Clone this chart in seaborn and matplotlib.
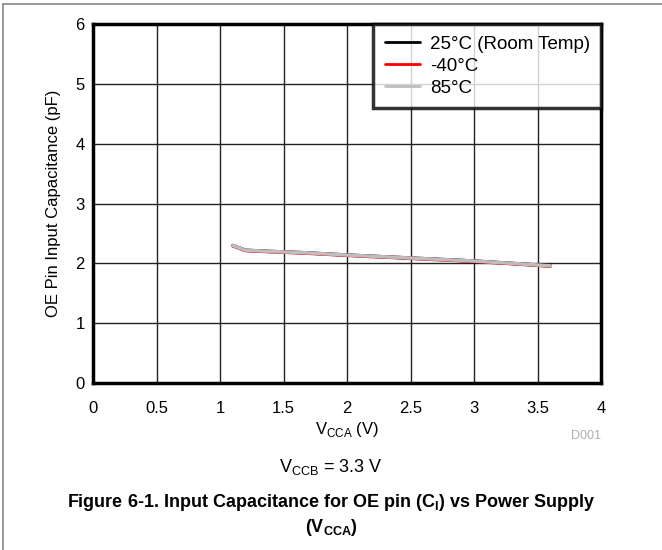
import numpy as np
import pandas as pd
import seaborn as sns
import matplotlib.pyplot as plt
from matplotlib.lines import Line2D

# valeurs
vcca = [1.1, 1.15, 1.2, 1.4, 1.65, 2.0, 2.5, 3.0, 3.3, 3.6]
cap_25 = [2.30, 2.26, 2.22, 2.20, 2.18, 2.14, 2.09, 2.04, 2.00, 1.96]
cap_m40 = [2.295, 2.255, 2.215, 2.195, 2.175, 2.135, 2.085, 2.035, 1.995, 1.955]
cap_85 = [2.30, 2.26, 2.22, 2.20, 2.18, 2.14, 2.09, 2.04, 2.00, 1.96]
labels = ['25°C (Room Temp)', '-40°C', '85°C']
colors = ['#000000', '#ff0000', '#bdbdbd']
x_ticks = [0, 0.5, 1, 1.5, 2, 2.5, 3, 3.5, 4]
y_ticks = [0, 1, 2, 3, 4, 5, 6]

df = pd.DataFrame({'vcca': vcca * 3,
                   'cap': cap_25 + cap_m40 + cap_85,
                   'temp': [labels[0]] * len(vcca) + [labels[1]] * len(vcca) + [labels[2]] * len(vcca)})

sns.set_style('white')
plt.rcParams['font.family'] = ['Liberation Sans', 'DejaVu Sans']
plt.rcParams['mathtext.fontset'] = 'custom'
plt.rcParams['mathtext.rm'] = 'Liberation Sans'
plt.rcParams['mathtext.bf'] = 'Liberation Sans:bold'
plt.rcParams['text.color'] = 'black'
plt.rcParams['axes.labelcolor'] = 'black'

fig = plt.figure(figsize=(6.62, 5.5), dpi=100)
ax = fig.add_axes([0.1405, 0.3036, 0.7675, 0.6524])

sns.lineplot(data=df, x='vcca', y='cap', hue='temp', palette=dict(zip(labels, colors)),
             linewidth=2.5, ax=ax, legend=False, zorder=3)

ax.set_xlim(0, 4)
ax.set_ylim(0, 6)
ax.set_xticks(x_ticks)
ax.set_xticklabels(['0', '0.5', '1', '1.5', '2', '2.5', '3', '3.5', '4'])
ax.set_yticks(y_ticks)
ax.tick_params(length=0, labelsize=12, pad=6, colors='black')
ax.tick_params(axis='x', pad=13)
ax.grid(True, color='#222222', linewidth=1)
for s in ax.spines.values():
    s.set_color('black')
    s.set_linewidth(2.5)

ax.set_xlabel(r'V$_{\mathregular{CCA}}$ (V)', fontsize=12, labelpad=3)
ax.set_ylabel('OE Pin Input Capacitance (pF)', fontsize=12, labelpad=10)

handles = [Line2D([0], [0], color=c, lw=2) for c in colors]
leg = ax.legend(handles, labels, loc='upper right', fontsize=13.5, frameon=True,
                fancybox=False, borderaxespad=0, handlelength=1.9, handletextpad=0.5,
                labelspacing=0.26, borderpad=0.6)
leg.get_frame().set_edgecolor('black')
leg.get_frame().set_linewidth(2.5)

fig.text(0.908, 0.207, 'D001', color='#b0b0b0', fontsize=9, ha='right', va='center')
fig.text(0.5, 0.151, r'V$_{\mathregular{CCB}}$ = 3.3 V', fontsize=13, ha='center', va='center')
fig.text(0.5, 0.086, r'Figure 6-1. Input Capacitance for OE pin (C$_{\mathbf{I}}$) vs Power Supply',
         fontsize=13, fontweight='bold', ha='center', va='center')
fig.text(0.5, 0.04, r'(V$_{\mathbf{CCA}}$)', fontsize=13, fontweight='bold', ha='center', va='center')

# bordure grise en haut et à gauche
fig.add_artist(Line2D([0.005, 0.005], [0, 0.993], color='#888888', lw=1.2, transform=fig.transFigure))
fig.add_artist(Line2D([0.005, 1], [0.993, 0.993], color='#888888', lw=1.2, transform=fig.transFigure))

fig.savefig('out.png', dpi=100)
